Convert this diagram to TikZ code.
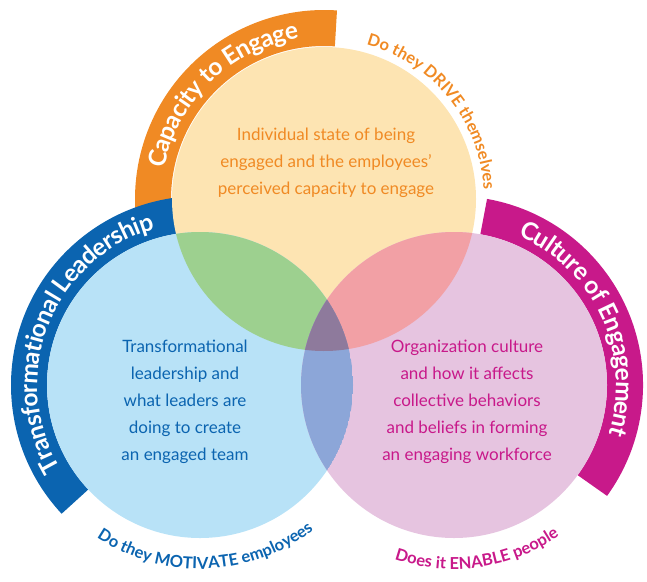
\documentclass[tikz,border=0pt]{standalone}
\usepackage{fontspec}
\setmainfont{Lato}
\usetikzlibrary{decorations.text}
\definecolor{corange}{HTML}{F08A24}
\definecolor{cblue}{HTML}{0B64B0}
\definecolor{cmag}{HTML}{C8198A}
\definecolor{fyel}{HTML}{FDE4B2}
\definecolor{fblu}{HTML}{B8E2F7}
\definecolor{fpin}{HTML}{E6C4E0}
\definecolor{fgreen}{HTML}{9DD08F}
\definecolor{fsal}{HTML}{F2A0A5}
\definecolor{fperi}{HTML}{8CA6D8}
\definecolor{fmid}{HTML}{8E7A9C}
\tikzset{
  band/.style={line width=36pt},
  bandtext/.style={decorate,decoration={text along path,text align=center,raise=-8.5pt,
     text={|\color{white}\fontsize{24.5}{24.5}\selectfont\bfseries|#1}}},
  outtext/.style 2 args={decorate,decoration={text along path,text align=center,
     text={|\color{#1}\fontsize{16.5}{16.5}\selectfont\bfseries|#2}}},
  body/.style={align=center,font=\fontsize{17}{27}\selectfont}
}
\begin{document}
\begin{tikzpicture}[x=1pt,y=1pt]
\useasboundingbox (0,0) rectangle (647,-581);
\coordinate (T) at (324,-199);
\coordinate (L) at (200,-385);
\coordinate (R) at (454,-385);
% bands
\draw[band,corange] ([shift={(185:171)}]T) arc[start angle=185,end angle=86,radius=171];
\draw[band,cblue] ([shift={(223:171)}]L) arc[start angle=223,end angle=98,radius=171];
\draw[band,cmag] ([shift={(80:171)}]R) arc[start angle=80,end angle=-36,radius=171];
% circles
\fill[fyel] (T) circle[radius=152];
\fill[fblu] (L) circle[radius=153];
\fill[fpin] (R) circle[radius=153];
\begin{scope}\clip (T) circle[radius=152]; \fill[fgreen] (L) circle[radius=153]; \fill[fsal] (R) circle[radius=153];
  \clip (L) circle[radius=153]; \fill[fmid] (R) circle[radius=153];\end{scope}
\begin{scope}\clip (L) circle[radius=153]; \clip (R) circle[radius=153];
  \fill[fperi] (L) circle[radius=153];
  \clip (T) circle[radius=152]; \fill[fmid] (T) circle[radius=152];\end{scope}
% band texts
\path[bandtext={Capacity to Engage}] ([shift={(182:171)}]T) arc[start angle=182,end angle=86,radius=171];
\path[bandtext={Transformational Leadership}] ([shift={(222:171)}]L) arc[start angle=222,end angle=95,radius=171];
\path[bandtext={Culture of Engagement}] ([shift={(84:171)}]R) arc[start angle=84,end angle=-35,radius=171];
% outside texts
\path[outtext={corange}{Do they DRIVE themselves}] ([shift={(82:160)}]T) arc[start angle=82,end angle=-4,radius=160];
\path[outtext={cblue}{Do they MOTIVATE employees}] ([shift={(220:184)}]L) arc[start angle=220,end angle=324,radius=184];
\path[outtext={cmag}{Does it ENABLE people}] ([shift={(238:184)}]R) arc[start angle=238,end angle=318,radius=184];
% body texts
\node[body,text=corange] (tt) at (326,-163) {Individual state of being\\engaged and the employees’\\perceived capacity to engage};
\node[body,text=cblue] (lt) at (185,-402) {Transformational\\leadership and\\what leaders are\\doing to create\\an engaged team};
\node[body,text=cmag] (rt) at (467,-402) {Organization culture\\and how it affects\\collective behaviors\\and beliefs in forming\\an engaging workforce};
\end{tikzpicture}
\end{document}
